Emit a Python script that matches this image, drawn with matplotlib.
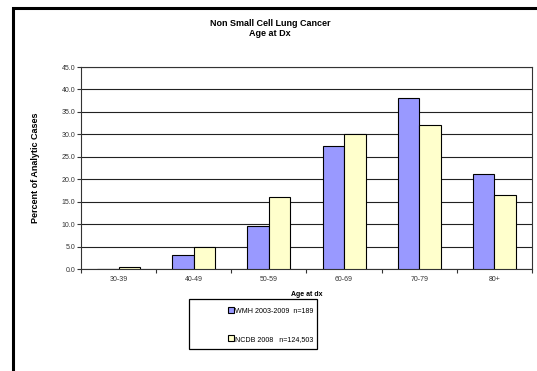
import matplotlib
matplotlib.use("Agg")
import matplotlib.pyplot as plt
import numpy as np
from matplotlib.patches import Rectangle, Patch

plt.rcParams['font.family'] = ['Liberation Sans', 'DejaVu Sans']

age_groups = ["30-39", "40-49", "50-59", "60-69", "70-79", "80+"]
wmh = [0.0, 3.2, 9.5, 27.5, 38.1, 21.2]
ncdb = [0.5, 4.9, 16.0, 30.1, 32.0, 16.4]
series_labels = ["WMH 2003-2009  n=189", "NCDB 2008   n=124,503"]
y_ticks = [0, 5, 10, 15, 20, 25, 30, 35, 40, 45]

W, H = 537, 371
fig = plt.figure(figsize=(W / 100, H / 100), dpi=100)

# thick frame around the chart area
fig.patches.append(Rectangle((12.5 / W, -0.1), 1.2, 1 - 7.5 / H + 0.1,
                             transform=fig.transFigure, fill=False,
                             edgecolor="black", linewidth=2.2, zorder=0))

ax = fig.add_axes([81 / W, 1 - 269 / H, 451 / W, 202 / H])

x = np.arange(len(age_groups))
bw = 1 / 3.5
ax.bar(x - bw / 2, wmh, bw, color="#9999FF", edgecolor="black", linewidth=0.8, zorder=3)
ax.bar(x + bw / 2, ncdb, bw, color="#FFFFCC", edgecolor="black", linewidth=0.8, zorder=3)

ax.set_xlim(-0.5, len(age_groups) - 0.5)
ax.set_ylim(0, 45)
ax.set_yticks(y_ticks)
ax.set_yticklabels([f"{v:.1f}" for v in y_ticks])
ax.yaxis.grid(True, color="#222222", linewidth=0.8, zorder=0)
ax.set_axisbelow(True)

ax.set_xticks(x)
ax.set_xticklabels(age_groups)
ax.set_xticks(np.arange(-0.5, len(age_groups)), minor=True)
ax.tick_params(axis="x", which="major", length=0, pad=5, labelsize=5, colors="#333333")
ax.tick_params(axis="x", which="minor", length=3, width=0.8, color="#333333")
ax.tick_params(axis="y", length=3, width=0.8, pad=1, labelsize=5, colors="#333333")
for s in ax.spines.values():
    s.set_color("#333333")
    s.set_linewidth(0.8)

ax.set_xlabel("Age at dx", fontsize=5, fontweight="bold", labelpad=6)
fig.text(35 / W, 1 - 168 / H, "Percent of Analytic Cases", rotation=90,
         ha="center", va="center", fontsize=6.5, fontweight="bold")
fig.text(270 / W, 1 - 23 / H, "Non Small Cell Lung Cancer", ha="center", va="center",
         fontsize=6.5, fontweight="bold")
fig.text(270 / W, 1 - 34 / H, "Age at Dx", ha="center", va="center",
         fontsize=6.5, fontweight="bold")

# legend box
fig.patches.append(Rectangle((189 / W, 1 - 349 / H), 128 / W, 50 / H,
                             transform=fig.transFigure, fill=True, facecolor="white",
                             edgecolor="black", linewidth=0.9, zorder=1))
handles = [Patch(facecolor="#9999FF", edgecolor="black", linewidth=0.8),
           Patch(facecolor="#FFFFCC", edgecolor="black", linewidth=0.8)]
leg = fig.legend(handles, series_labels, loc="center left",
                 bbox_to_anchor=(224 / W, 1 - 325 / H),
                 fontsize=5.1, frameon=False,
                 handlelength=0.85, handleheight=0.85,
                 handletextpad=0.15, labelspacing=2.9, borderpad=0)
leg.set_zorder(2)

fig.savefig("out.png", dpi=100)
